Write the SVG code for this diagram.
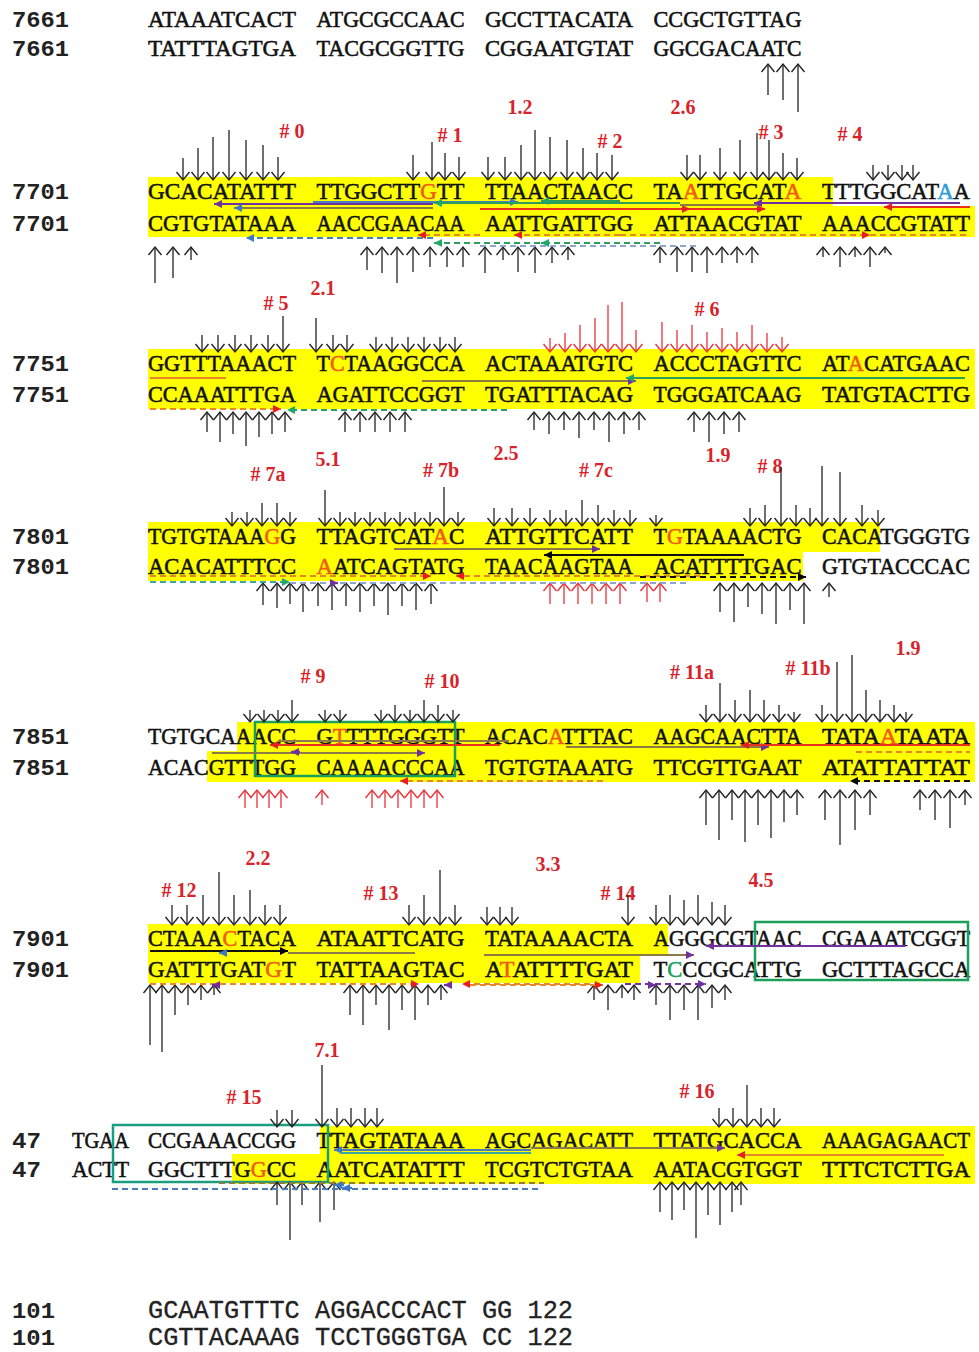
<svg xmlns="http://www.w3.org/2000/svg" width="979" height="1352" viewBox="0 0 979 1352">
<defs>
<style>
.seq{font-family:"Liberation Serif","Times New Roman",serif;font-size:23px;fill:#111;stroke:#111;stroke-width:0.55}
.num{font-family:"Liberation Mono","Courier New",monospace;font-size:22px;font-weight:bold;fill:#222}
.lab{font-family:"Liberation Serif","Times New Roman",serif;font-size:20px;font-weight:bold;fill:#d8232a;text-anchor:middle}
.cour{font-family:"Liberation Mono","Courier New",monospace;font-size:25px;fill:#222;stroke:#222;stroke-width:0.3}
.o{fill:#f05a14;stroke:#f05a14}.b{fill:#2e9bd6;stroke:#2e9bd6}.g{fill:#1e9e60;stroke:#1e9e60}
.hl{fill:#ffff00}
.dn path{stroke:#222;stroke-width:1.3;fill:none;marker-end:url(#kb)}
.rd path{stroke:#e8323a;stroke-width:1.3;fill:none;marker-end:url(#kr)}
.box{fill:none;stroke:#1aa05a;stroke-width:2.5}
.ln{fill:none;stroke-width:2.2}
.ds{stroke-dasharray:6 4}
.cp{stroke:#7030a0}.cb{stroke:#4a7ebb}.cg{stroke:#2ca05a}.cr{stroke:#e8321e}.co{stroke:#e8872a}.ck{stroke:#111}.cv{stroke:#8c7b45}.ct{stroke:#3aa8a0}.cl{stroke:#8fa6c8}
.mp{marker-end:url(#tp)}.mb{marker-end:url(#tb)}.mg{marker-end:url(#tg)}.mr{marker-end:url(#tr)}.mk{marker-end:url(#tk)}
</style>
<marker id="kb" viewBox="-10 -8 12 16" refX="0" refY="0" markerWidth="12" markerHeight="16" markerUnits="userSpaceOnUse" orient="auto"><path d="M-8,-6.5 L0,0 L-8,6.5" fill="none" stroke="#222" stroke-width="1.4"/></marker>
<marker id="kr" viewBox="-10 -8 12 16" refX="0" refY="0" markerWidth="12" markerHeight="16" markerUnits="userSpaceOnUse" orient="auto"><path d="M-8,-6.5 L0,0 L-8,6.5" fill="none" stroke="#e8323a" stroke-width="1.4"/></marker>
<marker id="tp" viewBox="-9 -5 10 10" refX="0" refY="0" markerWidth="10" markerHeight="10" markerUnits="userSpaceOnUse" orient="auto"><path d="M-8,-4 L0,0 L-8,4Z" fill="#7030a0"/></marker>
<marker id="tb" viewBox="-9 -5 10 10" refX="0" refY="0" markerWidth="10" markerHeight="10" markerUnits="userSpaceOnUse" orient="auto"><path d="M-8,-4 L0,0 L-8,4Z" fill="#3a78c8"/></marker>
<marker id="tg" viewBox="-9 -5 10 10" refX="0" refY="0" markerWidth="10" markerHeight="10" markerUnits="userSpaceOnUse" orient="auto"><path d="M-8,-4 L0,0 L-8,4Z" fill="#1fa86a"/></marker>
<marker id="tr" viewBox="-9 -5 10 10" refX="0" refY="0" markerWidth="10" markerHeight="10" markerUnits="userSpaceOnUse" orient="auto"><path d="M-8,-4 L0,0 L-8,4Z" fill="#e81e1e"/></marker>
<marker id="tk" viewBox="-9 -5 10 10" refX="0" refY="0" markerWidth="10" markerHeight="10" markerUnits="userSpaceOnUse" orient="auto"><path d="M-8,-4 L0,0 L-8,4Z" fill="#000"/></marker>
</defs>
<rect width="979" height="1352" fill="#fff"/>

<g id="highlights">
<rect class="hl" x="148" y="177" width="685" height="30"/>
<rect class="hl" x="148" y="206" width="827" height="31"/>
<rect class="hl" x="148" y="349" width="827" height="60"/>
<rect class="hl" x="148" y="522" width="732" height="30"/>
<rect class="hl" x="148" y="551" width="655" height="30"/>
<rect class="hl" x="237" y="722" width="738" height="30"/>
<rect class="hl" x="207" y="751" width="768" height="31"/>
<rect class="hl" x="148" y="924" width="520" height="30"/>
<rect class="hl" x="148" y="953" width="492" height="30"/>
<rect class="hl" x="320" y="1126" width="655" height="29"/>
<rect class="hl" x="232" y="1154" width="743" height="30"/>
</g>

<g id="block-7661">
<text class="num" x="12" y="27" textLength="57" lengthAdjust="spacingAndGlyphs">7661</text>
<text class="num" x="12" y="56" textLength="57" lengthAdjust="spacingAndGlyphs">7661</text>
<text class="seq" x="148" y="27" textLength="148" lengthAdjust="spacingAndGlyphs">ATAAATCACT</text>
<text class="seq" x="316.5" y="27" textLength="148" lengthAdjust="spacingAndGlyphs">ATGCGCCAAC</text>
<text class="seq" x="485" y="27" textLength="148" lengthAdjust="spacingAndGlyphs">GCCTTACATA</text>
<text class="seq" x="653.5" y="27" textLength="148" lengthAdjust="spacingAndGlyphs">CCGCTGTTAG</text>
<text class="seq" x="148" y="56" textLength="148" lengthAdjust="spacingAndGlyphs">TATTTAGTGA</text>
<text class="seq" x="316.5" y="56" textLength="148" lengthAdjust="spacingAndGlyphs">TACGCGGTTG</text>
<text class="seq" x="485" y="56" textLength="148" lengthAdjust="spacingAndGlyphs">CGGAATGTAT</text>
<text class="seq" x="653.5" y="56" textLength="148" lengthAdjust="spacingAndGlyphs">GGCGACAATC</text>
</g>

<g id="block-7701">
<text class="num" x="12" y="199" textLength="57" lengthAdjust="spacingAndGlyphs">7701</text>
<text class="num" x="12" y="231" textLength="57" lengthAdjust="spacingAndGlyphs">7701</text>
<text class="seq" x="148" y="199" textLength="148" lengthAdjust="spacingAndGlyphs">GCACATATTT</text>
<text class="seq" x="316.5" y="199" textLength="148" lengthAdjust="spacingAndGlyphs">TTGGCTT<tspan class="o">G</tspan>TT</text>
<text class="seq" x="485" y="199" textLength="148" lengthAdjust="spacingAndGlyphs">TTAACTAACC</text>
<text class="seq" x="653.5" y="199" textLength="148" lengthAdjust="spacingAndGlyphs">TA<tspan class="o">A</tspan>TTGCAT<tspan class="o">A</tspan></text>
<text class="seq" x="822" y="199" textLength="148" lengthAdjust="spacingAndGlyphs">TTTGGCAT<tspan class="b">A</tspan>A</text>
<text class="seq" x="148" y="231" textLength="148" lengthAdjust="spacingAndGlyphs">CGTGTATAAA</text>
<text class="seq" x="316.5" y="231" textLength="148" lengthAdjust="spacingAndGlyphs">AACCGAACAA</text>
<text class="seq" x="485" y="231" textLength="148" lengthAdjust="spacingAndGlyphs">AATTGATTGG</text>
<text class="seq" x="653.5" y="231" textLength="148" lengthAdjust="spacingAndGlyphs">ATTAACGTAT</text>
<text class="seq" x="822" y="231" textLength="148" lengthAdjust="spacingAndGlyphs">AAACCGTATT</text>
<text class="lab" x="292" y="138"># 0</text>
<text class="lab" x="450" y="142"># 1</text>
<text class="lab" x="520" y="114">1.2</text>
<text class="lab" x="610" y="148"># 2</text>
<text class="lab" x="683" y="114">2.6</text>
<text class="lab" x="771" y="139"># 3</text>
<text class="lab" x="850" y="141"># 4</text>
</g>

<g id="block-7751">
<text class="num" x="12" y="371" textLength="57" lengthAdjust="spacingAndGlyphs">7751</text>
<text class="num" x="12" y="402" textLength="57" lengthAdjust="spacingAndGlyphs">7751</text>
<text class="seq" x="148" y="371" textLength="148" lengthAdjust="spacingAndGlyphs">GGTTTAAACT</text>
<text class="seq" x="316.5" y="371" textLength="148" lengthAdjust="spacingAndGlyphs">T<tspan class="o">C</tspan>TAAGGCCA</text>
<text class="seq" x="485" y="371" textLength="148" lengthAdjust="spacingAndGlyphs">ACTAAATGTC</text>
<text class="seq" x="653.5" y="371" textLength="148" lengthAdjust="spacingAndGlyphs">ACCCTAGTTC</text>
<text class="seq" x="822" y="371" textLength="148" lengthAdjust="spacingAndGlyphs">AT<tspan class="o">A</tspan>CATGAAC</text>
<text class="seq" x="148" y="402" textLength="148" lengthAdjust="spacingAndGlyphs">CCAAATTTGA</text>
<text class="seq" x="316.5" y="402" textLength="148" lengthAdjust="spacingAndGlyphs">AGATTCCGGT</text>
<text class="seq" x="485" y="402" textLength="148" lengthAdjust="spacingAndGlyphs">TGATTTACAG</text>
<text class="seq" x="653.5" y="402" textLength="148" lengthAdjust="spacingAndGlyphs">TGGGATCAAG</text>
<text class="seq" x="822" y="402" textLength="148" lengthAdjust="spacingAndGlyphs">TATGTACTTG</text>
<text class="lab" x="276" y="310"># 5</text>
<text class="lab" x="323" y="295">2.1</text>
<text class="lab" x="707" y="316"># 6</text>
</g>

<g id="block-7801">
<text class="num" x="12" y="544" textLength="57" lengthAdjust="spacingAndGlyphs">7801</text>
<text class="num" x="12" y="574" textLength="57" lengthAdjust="spacingAndGlyphs">7801</text>
<text class="seq" x="148" y="544" textLength="148" lengthAdjust="spacingAndGlyphs">TGTGTAAA<tspan class="o">G</tspan>G</text>
<text class="seq" x="316.5" y="544" textLength="148" lengthAdjust="spacingAndGlyphs">TTAGTCAT<tspan class="o">A</tspan>C</text>
<text class="seq" x="485" y="544" textLength="148" lengthAdjust="spacingAndGlyphs">ATTGTTCATT</text>
<text class="seq" x="653.5" y="544" textLength="148" lengthAdjust="spacingAndGlyphs">T<tspan class="o">G</tspan>TAAAACTG</text>
<text class="seq" x="822" y="544" textLength="148" lengthAdjust="spacingAndGlyphs">CACATGGGTG</text>
<text class="seq" x="148" y="574" textLength="148" lengthAdjust="spacingAndGlyphs">ACACATTTCC</text>
<text class="seq" x="316.5" y="574" textLength="148" lengthAdjust="spacingAndGlyphs"><tspan class="o">A</tspan>ATCAGTATG</text>
<text class="seq" x="485" y="574" textLength="148" lengthAdjust="spacingAndGlyphs">TAACAAGTAA</text>
<text class="seq" x="653.5" y="574" textLength="148" lengthAdjust="spacingAndGlyphs">ACATTTTGAC</text>
<text class="seq" x="822" y="574" textLength="148" lengthAdjust="spacingAndGlyphs">GTGTACCCAC</text>
<text class="lab" x="268" y="481"># 7a</text>
<text class="lab" x="328" y="466">5.1</text>
<text class="lab" x="441" y="477"># 7b</text>
<text class="lab" x="506" y="460">2.5</text>
<text class="lab" x="596" y="477"># 7c</text>
<text class="lab" x="718" y="462">1.9</text>
<text class="lab" x="770" y="473"># 8</text>
</g>

<g id="block-7851">
<text class="num" x="12" y="744" textLength="57" lengthAdjust="spacingAndGlyphs">7851</text>
<text class="num" x="12" y="775" textLength="57" lengthAdjust="spacingAndGlyphs">7851</text>
<text class="seq" x="148" y="744" textLength="148" lengthAdjust="spacingAndGlyphs">TGTGCAAACC</text>
<text class="seq" x="316.5" y="744" textLength="148" lengthAdjust="spacingAndGlyphs">G<tspan class="o">T</tspan>TTTGGGTT</text>
<text class="seq" x="485" y="744" textLength="148" lengthAdjust="spacingAndGlyphs">ACAC<tspan class="o">A</tspan>TTTAC</text>
<text class="seq" x="653.5" y="744" textLength="148" lengthAdjust="spacingAndGlyphs">AAGCAACTTA</text>
<text class="seq" x="822" y="744" textLength="148" lengthAdjust="spacingAndGlyphs">TATA<tspan class="o">A</tspan>TAATA</text>
<text class="seq" x="148" y="775" textLength="148" lengthAdjust="spacingAndGlyphs">ACACGTTTGG</text>
<text class="seq" x="316.5" y="775" textLength="148" lengthAdjust="spacingAndGlyphs">CAAAACCCAA</text>
<text class="seq" x="485" y="775" textLength="148" lengthAdjust="spacingAndGlyphs">TGTGTAAATG</text>
<text class="seq" x="653.5" y="775" textLength="148" lengthAdjust="spacingAndGlyphs">TTCGTTGAAT</text>
<text class="seq" x="822" y="775" textLength="148" lengthAdjust="spacingAndGlyphs">ATATTATTAT</text>
<text class="lab" x="313" y="683"># 9</text>
<text class="lab" x="442" y="688"># 10</text>
<text class="lab" x="692" y="679"># 11a</text>
<text class="lab" x="808" y="675"># 11b</text>
<text class="lab" x="908" y="655">1.9</text>
<rect class="box" x="255" y="722" width="200" height="54"/>
</g>

<g id="block-7901">
<text class="num" x="12" y="946" textLength="57" lengthAdjust="spacingAndGlyphs">7901</text>
<text class="num" x="12" y="977" textLength="57" lengthAdjust="spacingAndGlyphs">7901</text>
<text class="seq" x="148" y="946" textLength="148" lengthAdjust="spacingAndGlyphs">CTAAA<tspan class="o">C</tspan>TACA</text>
<text class="seq" x="316.5" y="946" textLength="148" lengthAdjust="spacingAndGlyphs">ATAATTCATG</text>
<text class="seq" x="485" y="946" textLength="148" lengthAdjust="spacingAndGlyphs">TATAAAACTA</text>
<text class="seq" x="653.5" y="946" textLength="148" lengthAdjust="spacingAndGlyphs">AGGGCGTAAC</text>
<text class="seq" x="822" y="946" textLength="148" lengthAdjust="spacingAndGlyphs">CGAAATCGGT</text>
<text class="seq" x="148" y="977" textLength="148" lengthAdjust="spacingAndGlyphs">GATTTGAT<tspan class="o">G</tspan>T</text>
<text class="seq" x="316.5" y="977" textLength="148" lengthAdjust="spacingAndGlyphs">TATTAAGTAC</text>
<text class="seq" x="485" y="977" textLength="148" lengthAdjust="spacingAndGlyphs">A<tspan class="o">T</tspan>ATTTTGAT</text>
<text class="seq" x="653.5" y="977" textLength="148" lengthAdjust="spacingAndGlyphs">T<tspan class="g">C</tspan>CCGCATTG</text>
<text class="seq" x="822" y="977" textLength="148" lengthAdjust="spacingAndGlyphs">GCTTTAGCCA</text>
<text class="lab" x="258" y="865">2.2</text>
<text class="lab" x="179" y="897"># 12</text>
<text class="lab" x="381" y="900"># 13</text>
<text class="lab" x="548" y="871">3.3</text>
<text class="lab" x="618" y="900"># 14</text>
<text class="lab" x="761" y="887">4.5</text>
<rect class="box" x="755" y="922" width="213" height="58"/>
</g>

<g id="block-47">
<text class="num" x="12" y="1148" textLength="29" lengthAdjust="spacingAndGlyphs">47</text>
<text class="num" x="12" y="1177" textLength="29" lengthAdjust="spacingAndGlyphs">47</text>
<text class="seq" x="72" y="1148" textLength="57" lengthAdjust="spacingAndGlyphs">TGAA</text>
<text class="seq" x="148" y="1148" textLength="148" lengthAdjust="spacingAndGlyphs">CCGAAACCGG</text>
<text class="seq" x="316.5" y="1148" textLength="148" lengthAdjust="spacingAndGlyphs">TTAGTATAAA</text>
<text class="seq" x="485" y="1148" textLength="148" lengthAdjust="spacingAndGlyphs">AGCAGACATT</text>
<text class="seq" x="653.5" y="1148" textLength="148" lengthAdjust="spacingAndGlyphs">TTATGCACCA</text>
<text class="seq" x="822" y="1148" textLength="148" lengthAdjust="spacingAndGlyphs">AAAGAGAACT</text>
<text class="seq" x="72" y="1177" textLength="57" lengthAdjust="spacingAndGlyphs">ACTT</text>
<text class="seq" x="148" y="1177" textLength="148" lengthAdjust="spacingAndGlyphs">GGCTTTG<tspan class="o">G</tspan>CC</text>
<text class="seq" x="316.5" y="1177" textLength="148" lengthAdjust="spacingAndGlyphs">AATCATATTT</text>
<text class="seq" x="485" y="1177" textLength="148" lengthAdjust="spacingAndGlyphs">TCGTCTGTAA</text>
<text class="seq" x="653.5" y="1177" textLength="148" lengthAdjust="spacingAndGlyphs">AATACGTGGT</text>
<text class="seq" x="822" y="1177" textLength="148" lengthAdjust="spacingAndGlyphs">TTTCTCTTGA</text>
<text class="lab" x="327" y="1057">7.1</text>
<text class="lab" x="244" y="1104"># 15</text>
<text class="lab" x="697" y="1098"># 16</text>
<rect class="box" x="113" y="1125" width="215" height="57" style="stroke:#1a9e80"/>
</g>

<g id="block-101">
<text class="num" x="12" y="1318" textLength="43" lengthAdjust="spacingAndGlyphs">101</text>
<text class="num" x="12" y="1345" textLength="43" lengthAdjust="spacingAndGlyphs">101</text>
<text class="cour" x="148" y="1318" textLength="425" lengthAdjust="spacingAndGlyphs">GCAATGTTTC AGGACCCACT GG 122</text>
<text class="cour" x="148" y="1345" textLength="425" lengthAdjust="spacingAndGlyphs">CGTTACAAAG TCCTGGGTGA CC 122</text>
</g>

<g id="connectors">
<g class="dn">
<path d="M768 95V64"/><path d="M783 100V64"/><path d="M798 112V64"/>
<path d="M183 158V180"/><path d="M198 148V180"/><path d="M213 137V180"/><path d="M229 130V180"/><path d="M246 140V180"/><path d="M263 145V180"/><path d="M278 157V180"/>
<path d="M413 155V180"/><path d="M432 142V180"/><path d="M445 153V180"/><path d="M459 157V180"/>
<path d="M488 157V180"/><path d="M505 157V180"/><path d="M521 145V180"/><path d="M535 130V180"/><path d="M550 137V180"/><path d="M567 140V180"/><path d="M583 148V180"/><path d="M597 153V180"/><path d="M612 155V180"/>
<path d="M687 155V180"/><path d="M700 155V180"/><path d="M720 148V180"/><path d="M740 140V180"/><path d="M757 133V180"/><path d="M769 140V180"/><path d="M783 153V180"/><path d="M797 158V180"/>
<path d="M873 165V180"/><path d="M888 165V180"/><path d="M902 165V180"/><path d="M913 165V180"/>
<path d="M155 283V247"/><path d="M173 278V247"/><path d="M191 260V247"/>
<path d="M367 270V247"/><path d="M382 273V247"/><path d="M397 283V247"/><path d="M413 272V247"/><path d="M430 267V247"/><path d="M447 267V247"/><path d="M463 267V247"/>
<path d="M485 273V247"/><path d="M503 260V247"/><path d="M518 272V247"/><path d="M535 273V247"/><path d="M552 263V247"/><path d="M568 260V247"/>
<path d="M660 263V247"/><path d="M677 272V247"/><path d="M692 272V247"/><path d="M707 273V247"/><path d="M722 263V247"/><path d="M737 263V247"/><path d="M752 263V247"/>
<path d="M823 257V247"/><path d="M840 267V247"/><path d="M855 257V247"/><path d="M870 267V247"/><path d="M885 253V247"/>

<path d="M202 335V352"/><path d="M218 335V352"/><path d="M235 335V352"/><path d="M251 335V352"/><path d="M268 335V352"/><path d="M283 316V352"/>
<path d="M316 318V352"/><path d="M333 335V352"/><path d="M347 335V352"/>
<path d="M376 337V352"/><path d="M392 337V352"/><path d="M408 337V352"/><path d="M424 337V352"/><path d="M440 337V352"/><path d="M455 337V352"/>
<path d="M207 432V412"/><path d="M220 442V412"/><path d="M233 434V412"/><path d="M246 446V412"/><path d="M259 437V412"/><path d="M272 434V412"/><path d="M285 432V412"/>
<path d="M345 432V412"/><path d="M360 432V412"/><path d="M375 432V412"/><path d="M390 432V412"/><path d="M405 432V412"/>
<path d="M534 430V412"/><path d="M549 434V412"/><path d="M564 430V412"/><path d="M579 438V412"/><path d="M594 430V412"/><path d="M609 442V412"/><path d="M624 434V412"/><path d="M639 430V412"/>
<path d="M694 432V412"/><path d="M709 442V412"/><path d="M724 434V412"/><path d="M739 432V412"/>

<path d="M232 512V526"/><path d="M247 512V526"/><path d="M262 503V526"/><path d="M277 503V526"/><path d="M290 512V526"/>
<path d="M325 490V526"/><path d="M340 512V526"/><path d="M355 512V526"/><path d="M370 512V526"/><path d="M385 512V526"/><path d="M400 512V526"/><path d="M415 512V526"/><path d="M430 512V526"/><path d="M444 487V526"/><path d="M458 512V526"/>
<path d="M494 508V526"/><path d="M512 508V526"/><path d="M530 508V526"/>
<path d="M550 510V526"/><path d="M566 510V526"/><path d="M582 500V526"/><path d="M598 505V526"/><path d="M614 510V526"/><path d="M630 510V526"/>
<path d="M656 515V526"/>
<path d="M750 508V526"/><path d="M765 505V526"/><path d="M781 467V526"/><path d="M796 505V526"/><path d="M810 508V526"/>
<path d="M822 466V526"/><path d="M840 472V526"/><path d="M862 505V526"/><path d="M878 510V526"/>
<path d="M263 605V583"/><path d="M277 608V583"/><path d="M290 604V583"/><path d="M303 612V583"/>
<path d="M318 606V583"/><path d="M332 610V583"/><path d="M346 606V583"/><path d="M360 612V583"/><path d="M374 606V583"/><path d="M388 615V583"/><path d="M402 606V583"/><path d="M416 610V583"/><path d="M431 604V583"/>
<path d="M720 612V583"/><path d="M734 622V583"/><path d="M748 607V583"/><path d="M762 614V583"/><path d="M776 624V583"/><path d="M790 610V583"/><path d="M804 624V583"/>
<path d="M829 597V583"/>

<path d="M250 710V722"/><path d="M264 710V722"/><path d="M278 710V722"/><path d="M292 700V722"/>
<path d="M325 710V722"/><path d="M340 710V722"/>
<path d="M381 710V722"/><path d="M395 705V722"/><path d="M410 710V722"/><path d="M424 700V722"/><path d="M438 705V722"/><path d="M453 710V722"/>
<path d="M706 705V722"/><path d="M720 683V722"/><path d="M735 700V722"/><path d="M750 690V722"/><path d="M764 700V722"/><path d="M779 705V722"/><path d="M794 712V722"/>
<path d="M822 705V722"/><path d="M837 662V722"/><path d="M852 655V722"/><path d="M866 690V722"/><path d="M880 700V722"/><path d="M894 705V722"/><path d="M906 712V722"/>
<path d="M706 825V790"/><path d="M719 840V790"/><path d="M732 820V790"/><path d="M745 842V790"/><path d="M758 825V790"/><path d="M771 838V790"/><path d="M784 822V790"/><path d="M797 815V790"/>
<path d="M825 820V790"/><path d="M840 845V790"/><path d="M855 830V790"/><path d="M870 815V790"/>
<path d="M920 810V790"/><path d="M935 820V790"/><path d="M950 828V790"/><path d="M965 805V790"/>

<path d="M172 905V925"/><path d="M187 905V925"/><path d="M203 895V925"/><path d="M219 872V925"/><path d="M234 895V925"/><path d="M250 890V925"/><path d="M265 905V925"/><path d="M280 905V925"/>
<path d="M409 905V925"/><path d="M424 895V925"/><path d="M440 870V925"/><path d="M455 905V925"/>
<path d="M487 907V925"/><path d="M500 907V925"/><path d="M512 907V925"/>
<path d="M628 895V925"/>
<path d="M656 905V925"/><path d="M670 895V925"/><path d="M684 900V925"/><path d="M698 895V925"/><path d="M712 902V925"/><path d="M725 905V925"/>
<path d="M150 1045V985"/><path d="M162 1052V985"/><path d="M175 1015V985"/><path d="M188 1005V985"/><path d="M201 1000V985"/><path d="M214 995V985"/>
<path d="M350 1015V985"/><path d="M363 1025V985"/><path d="M376 1005V985"/><path d="M389 1030V985"/><path d="M402 1010V985"/><path d="M415 1020V985"/><path d="M428 1005V985"/><path d="M441 1000V985"/>
<path d="M594 1000V985"/><path d="M608 1010V985"/><path d="M622 998V985"/><path d="M634 1000V985"/>
<path d="M656 1005V985"/><path d="M670 1020V985"/><path d="M684 1010V985"/><path d="M698 1020V985"/><path d="M712 1008V985"/><path d="M725 1000V985"/>

<path d="M277 1110V1127"/><path d="M292 1110V1127"/>
<path d="M322 1065V1127"/><path d="M337 1108V1127"/><path d="M351 1108V1127"/><path d="M365 1108V1127"/><path d="M377 1108V1127"/>
<path d="M719 1108V1127"/><path d="M733 1108V1127"/><path d="M747 1085V1127"/><path d="M761 1108V1127"/><path d="M774 1108V1127"/>
<path d="M277 1205V1182"/><path d="M290 1240V1182"/><path d="M302 1205V1182"/>
<path d="M320 1222V1182"/><path d="M334 1210V1182"/>
<path d="M660 1212V1182"/><path d="M672 1220V1182"/><path d="M684 1210V1182"/><path d="M696 1238V1182"/><path d="M708 1215V1182"/><path d="M720 1225V1182"/><path d="M732 1212V1182"/><path d="M741 1205V1182"/>
</g>
<g class="rd">
<path d="M550 338V352"/><path d="M565 333V352"/><path d="M580 325V352"/><path d="M595 318V352"/><path d="M608 305V352"/><path d="M622 302V352"/><path d="M636 330V352"/>
<path d="M662 322V352"/><path d="M677 330V352"/><path d="M692 325V352"/><path d="M707 332V352"/><path d="M722 328V352"/><path d="M737 332V352"/><path d="M752 325V352"/><path d="M767 333V352"/><path d="M782 337V352"/>
<path d="M550 604V583"/><path d="M564 604V583"/><path d="M578 604V583"/><path d="M592 604V583"/><path d="M606 604V583"/><path d="M620 604V583"/>
<path d="M647 602V583"/><path d="M660 602V583"/>
<path d="M245 808V790"/><path d="M257 808V790"/><path d="M269 808V790"/><path d="M281 808V790"/>
<path d="M322 805V790"/>
<path d="M372 808V790"/><path d="M385 808V790"/><path d="M398 808V790"/><path d="M411 808V790"/><path d="M424 808V790"/><path d="M437 808V790"/>
</g>

<path class="ln cp mp" d="M433 204H214"/>
<path class="ln cv mb" d="M433 208H234"/>
<path class="ln cb mb" d="M313 202H518"/>
<path class="ln cg mg" d="M680 203H434"/>
<path class="ln cg mg" d="M620 201H541"/>
<path class="ln cr mr" d="M480 209H690"/>
<path class="ln cr mr" d="M690 209H765"/>
<path class="ln cv" d="M680 205H760"/>
<path class="ln cp mp" d="M960 203H754"/>
<path class="ln cr mr" d="M970 207H884"/>
<path class="ln cb ds mb" d="M433 238H246"/>
<path class="ln co ds mr" d="M480 235H418"/>
<path class="ln co ds mr" d="M620 235H514"/>
<path class="ln co ds mr" d="M620 235H870"/>
<path class="ln co ds" d="M870 235H970"/>
<path class="ln cg ds mg" d="M660 243H434"/>
<path class="ln cg mg" d="M548 243H541"/>
<path class="ln cl ds" d="M480 246H700"/>

<path class="ln co" d="M150 378H226"/>
<path class="ln cv mp" d="M422 381H636"/>
<path class="ln cg mg" d="M965 378H626"/>
<path class="ln co ds mr" d="M150 409H281"/>
<path class="ln cg ds mg" d="M507 410H287"/>

<path class="ln cv mp" d="M394 549H600"/>
<path class="ln ck mk" d="M744 555H544"/>
<path class="ln ct ds mg" d="M150 582H290"/>
<path class="ln co ds mr" d="M150 576H431"/>
<path class="ln co ds mr" d="M700 576H456"/>
<path class="ln ck ds mk" d="M640 577H806"/>
<path class="ln cl ds" d="M290 583H690"/>
<path class="ln cp mp" d="M330 583H338"/>

<path class="ln cr mr" d="M500 745H270"/>
<path class="ln cv" d="M278 741H509"/>
<path class="ln cv mp" d="M212 753H425"/>
<path class="ln cp mp" d="M300 752H291"/>
<path class="ln co ds mr" d="M603 781H400"/>
<path class="ln cv mp" d="M566 747H769"/>
<path class="ln cr mr" d="M970 745H741"/>
<path class="ln co ds" d="M856 752H970"/>
<path class="ln ck ds mk" d="M970 781H850"/>

<path class="ln ck mk" d="M150 951H288"/>
<path class="ln cv" d="M288 953H415"/>
<path class="ln cb mb" d="M226 953H219"/>
<path class="ln cv mp" d="M484 955H694"/>
<path class="ln cp mp" d="M905 946H706"/>
<path class="ln co ds mr" d="M150 984H419"/>
<path class="ln co ds mr" d="M600 984H462"/>
<path class="ln co ds mr" d="M470 985H603"/>
<path class="ln cp ds mp" d="M625 984H706"/>
<path class="ln cp mp" d="M220 985H212"/>
<path class="ln cp mp" d="M452 985H444"/>
<path class="ln cp mp" d="M648 985H656"/>

<path class="ln cb mb" d="M531 1150H334"/>
<path class="ln ct" d="M531 1153H340"/>
<path class="ln cv mp" d="M531 1148H725"/>
<path class="ln co mr" d="M944 1155H737"/>
<path class="ln cv ds" d="M219 1183H544"/>
<path class="ln cb ds" d="M112 1189H538"/>
<path class="ln cb mb" d="M344 1185H334"/>
<path class="ln cb mb" d="M352 1188H342"/>
</g>
</svg>
